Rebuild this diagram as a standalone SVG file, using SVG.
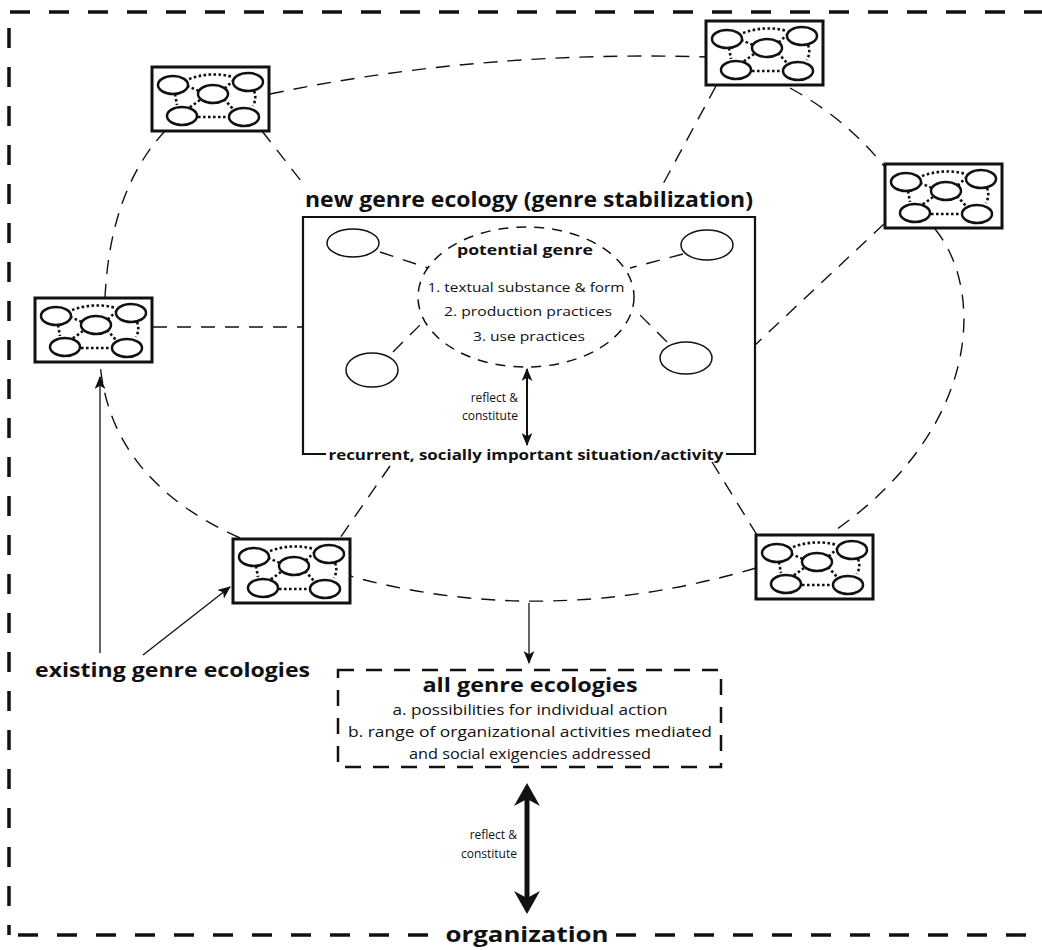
<svg xmlns="http://www.w3.org/2000/svg" xmlns:xlink="http://www.w3.org/1999/xlink" width="1042" height="950" viewBox="0 0 1042 950">
  <style>
    .t { font-family: "Open Sans", "Liberation Sans", sans-serif; fill: #111; }
    .b { font-weight: 700; }
    .c { text-anchor: middle; }
    .e { text-anchor: end; }
    .loop { fill: none; stroke: #111; stroke-width: 1.4; stroke-dasharray: 14 10; }
    .frame { fill: none; stroke: #111; stroke-width: 3.5; stroke-dasharray: 20 19; }
    .box { fill: #fff; stroke: #111; stroke-width: 3; }
    .ov { fill: #fff; stroke: #111; stroke-width: 2.5; }
    .dot { fill: none; stroke: #111; stroke-width: 2.6; stroke-dasharray: 2.6 2.4; }
    .arr { stroke: #111; fill: none; }
  </style>
  <defs>
    <marker id="head" viewBox="0 0 12 10" refX="11" refY="5" markerWidth="13" markerHeight="11" markerUnits="userSpaceOnUse" orient="auto-start-reverse">
      <path d="M0,0 L12,5 L0,10 L3,5 Z" fill="#111"/>
    </marker>
    <!-- miniature genre ecology: five genres linked by dotted ties -->
    <g id="eco">
      <rect class="box" x="0" y="0" width="117" height="64"/>
      <path class="dot" d="M37,12 Q59,4 81,10"/>
      <path class="dot" d="M102,24 Q105,31 101,39"/>
      <path class="dot" d="M46,50 L77,50"/>
      <path class="dot" d="M23,27 L25,38"/>
      <path class="dot" d="M35,19 L47,24"/>
      <path class="dot" d="M82,13 L72,22"/>
      <path class="dot" d="M48,33 L37,41"/>
      <path class="dot" d="M72,32 L81,42"/>
      <ellipse class="ov" cx="21" cy="18" rx="15" ry="9"/>
      <ellipse class="ov" cx="96" cy="15" rx="15" ry="9"/>
      <ellipse class="ov" cx="61" cy="27" rx="15" ry="9"/>
      <ellipse class="ov" cx="30" cy="49" rx="15" ry="9"/>
      <ellipse class="ov" cx="92" cy="50" rx="15" ry="9"/>
    </g>
  </defs>

  <rect width="1042" height="950" fill="#fff"/>

  <!-- organization frame -->
  <g id="frame">
    <line class="frame" x1="10" y1="12" x2="1042" y2="12"/>
    <line class="frame" x1="9" y1="28" x2="9" y2="935"/>
    <line class="frame" x1="18" y1="935" x2="436" y2="935"/>
    <line class="frame" x1="613" y1="935" x2="1042" y2="935" stroke-dashoffset="-3"/>
  </g>

  <!-- connectors -->
  <g id="connectors">
    <!-- ring of existing ecologies -->
    <path class="loop" d="M270,94 Q480,50 708,57"/>
    <path class="loop" d="M790,88 Q845,118 884,166"/>
    <path class="loop" d="M935,229 C985,290 982,430 830,534"/>
    <path class="loop" d="M756,568 Q545,630 350,576"/>
    <path class="loop" d="M240,538 Q110,480 100,363"/>
    <path class="loop" d="M105,298 Q110,190 165,131"/>
    <!-- ties to the new genre ecology -->
    <path class="loop" d="M262,131 L305,186"/>
    <path class="loop" d="M716,86 L662,186"/>
    <path class="loop" d="M153,327 L303,327"/>
    <path class="loop" d="M884,224 L755,345"/>
    <path class="loop" d="M390,466 L340,538"/>
    <path class="loop" d="M712,462 L757,535"/>
    <!-- ties inside the new ecology -->
    <path class="loop" d="M380,252 L428,268" stroke-dasharray="12 9"/>
    <path class="loop" d="M683,254 L630,268" stroke-dasharray="12 9"/>
    <path class="loop" d="M393,352 L425,320" stroke-dasharray="12 9"/>
    <path class="loop" d="M667,342 L633,308" stroke-dasharray="12 9"/>
    <!-- arrows -->
    <line class="arr" x1="527" y1="369" x2="527" y2="445" stroke-width="2" marker-start="url(#head)" marker-end="url(#head)"/>
    <line class="arr" x1="529" y1="603" x2="529" y2="663" stroke-width="1.3" marker-end="url(#head)"/>
    <line class="arr" x1="100" y1="653" x2="100" y2="377" stroke-width="1.3" marker-end="url(#head)"/>
    <line class="arr" x1="143" y1="655" x2="230" y2="587" stroke-width="1.3" marker-end="url(#head)"/>
    <g id="org-arrow" fill="#111">
      <line class="arr" x1="527" y1="796" x2="527" y2="901" stroke-width="5"/>
      <path d="M527,783 L540,806 L527,799 L514,806 Z"/>
      <path d="M527,914 L540,891 L527,898 L514,891 Z"/>
    </g>
  </g>

  <!-- existing genre ecologies -->
  <g id="eco-1"><use href="#eco" xlink:href="#eco" x="152" y="67"/></g>
  <g id="eco-2"><use href="#eco" xlink:href="#eco" x="35" y="298"/></g>
  <g id="eco-3"><use href="#eco" xlink:href="#eco" x="706" y="21"/></g>
  <g id="eco-4"><use href="#eco" xlink:href="#eco" x="885" y="164"/></g>
  <g id="eco-5"><use href="#eco" xlink:href="#eco" x="756" y="535"/></g>
  <g id="eco-6"><use href="#eco" xlink:href="#eco" x="233" y="539"/></g>

  <!-- new genre ecology -->
  <g id="new-ecology">
    <path d="M326,454 H303 V217 H755 V454 H726" fill="none" stroke="#111" stroke-width="2.2"/>
    <text class="t b c" x="529" y="207" font-size="21" textLength="448" lengthAdjust="spacingAndGlyphs">new genre ecology (genre stabilization)</text>
    <text class="t b c" x="526" y="460" font-size="15" textLength="395" lengthAdjust="spacingAndGlyphs">recurrent, socially important situation/activity</text>
    <ellipse cx="353" cy="243" rx="26" ry="14" fill="#fff" stroke="#111" stroke-width="1.5"/>
    <ellipse cx="707" cy="245" rx="26" ry="15" fill="#fff" stroke="#111" stroke-width="1.5"/>
    <ellipse cx="372" cy="370" rx="26" ry="17" fill="#fff" stroke="#111" stroke-width="1.5"/>
    <ellipse cx="686" cy="358" rx="26" ry="16" fill="#fff" stroke="#111" stroke-width="1.5"/>
    <text class="t e" x="518" y="402" font-size="12">reflect &amp;</text>
    <text class="t e" x="518" y="420" font-size="12">constitute</text>
  </g>

  <!-- potential genre -->
  <g id="potential-genre">
    <ellipse cx="526" cy="297" rx="108" ry="70" fill="none" stroke="#111" stroke-width="1.5" stroke-dasharray="10 8"/>
    <text class="t b c" x="525" y="255" font-size="14.5" textLength="136" lengthAdjust="spacingAndGlyphs">potential genre</text>
    <text class="t c" x="526" y="292" font-size="13.5" textLength="197" lengthAdjust="spacingAndGlyphs">1. textual substance &amp; form</text>
    <text class="t c" x="528" y="316" font-size="13.5" textLength="168" lengthAdjust="spacingAndGlyphs">2. production practices</text>
    <text class="t c" x="529" y="341" font-size="13.5" textLength="112" lengthAdjust="spacingAndGlyphs">3. use practices</text>
  </g>

  <!-- all genre ecologies -->
  <g id="all-ecologies">
    <rect x="338" y="670" width="383" height="97" fill="none" stroke="#111" stroke-width="2.5" stroke-dasharray="16 12"/>
    <text class="t b c" x="530" y="692" font-size="20" textLength="215" lengthAdjust="spacingAndGlyphs">all genre ecologies</text>
    <text class="t c" x="530" y="715" font-size="14.5" textLength="275" lengthAdjust="spacingAndGlyphs">a. possibilities for individual action</text>
    <text class="t c" x="530" y="737" font-size="14.5" textLength="364" lengthAdjust="spacingAndGlyphs">b. range of organizational activities mediated</text>
    <text class="t c" x="530" y="759" font-size="14.5" textLength="242" lengthAdjust="spacingAndGlyphs">and social exigencies addressed</text>
  </g>

  <!-- organization -->
  <g id="organization">
    <text class="t e" x="517" y="839" font-size="12">reflect &amp;</text>
    <text class="t e" x="517" y="858" font-size="12">constitute</text>
    <text class="t b c" x="527" y="942" font-size="22" textLength="163" lengthAdjust="spacingAndGlyphs">organization</text>
  </g>

  <!-- label for the existing ecologies -->
  <g id="existing-label">
    <text class="t b" x="35" y="677" font-size="20" textLength="275" lengthAdjust="spacingAndGlyphs">existing genre ecologies</text>
  </g>
</svg>
